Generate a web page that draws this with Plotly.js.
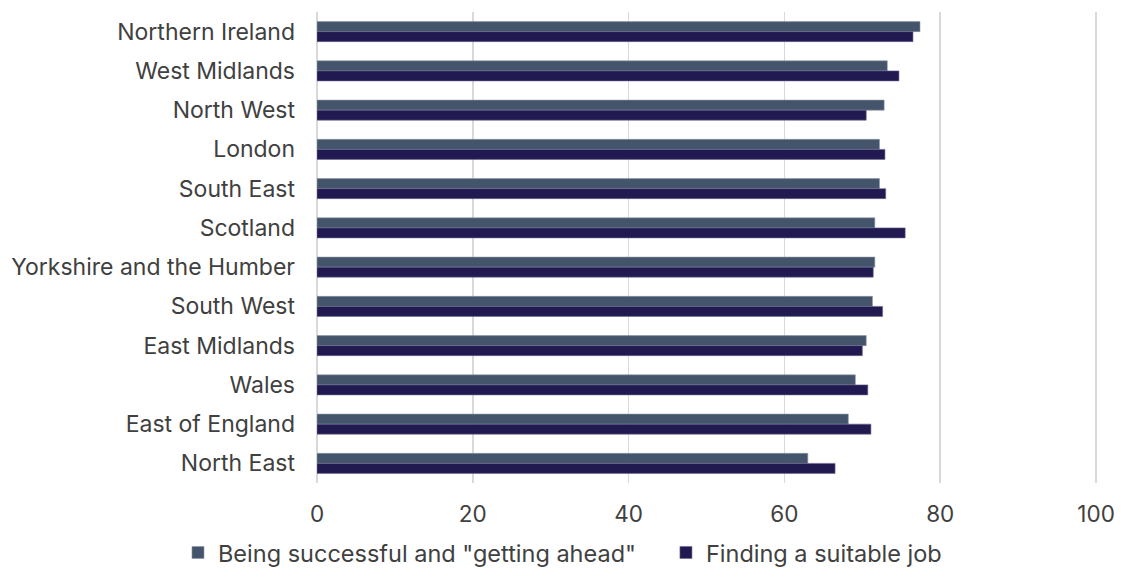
<!DOCTYPE html>
<html>
<head>
<meta charset="utf-8">
<script src="https://cdn.plot.ly/plotly-3.0.1.min.js"></script>
<style>
  html, body { margin: 0; padding: 0; background: #ffffff; }
  #chart { width: 1123px; height: 577px; }
</style>
</head>
<body>
<div id="chart"></div>
<script>
// UK regions, listed top to bottom
const regions = [
  "Northern Ireland", "West Midlands", "North West", "London", "South East",
  "Scotland", "Yorkshire and the Humber", "South West", "East Midlands",
  "Wales", "East of England", "North East"
];

// Share of respondents (%) per region
const gettingAhead = [77.4, 73.2, 72.8, 72.2, 72.2, 71.6, 71.6, 71.3, 70.5, 69.1, 68.2, 63.0];
const suitableJob  = [76.5, 74.7, 70.5, 72.9, 73.0, 75.5, 71.4, 72.6, 70.0, 70.7, 71.1, 66.5];

const seriesNames = ['Being successful and "getting ahead"', 'Finding a suitable job'];
const xTicks = [0, 20, 40, 60, 80, 100];

const fontFamily = 'Inter, Roboto, "Open Sans", sans-serif';
const textColor = '#404040';
const fontSize = 23;

const traces = [
  {
    type: 'bar', orientation: 'h', name: seriesNames[0],
    y: regions, x: gettingAhead, legend: 'legend',
    marker: { color: '#44546A', line: { color: '#8a96a6', width: 0.6 } },
    hoverinfo: 'x+name'
  },
  {
    type: 'bar', orientation: 'h', name: seriesNames[1],
    y: regions, x: suitableJob, legend: 'legend2',
    marker: { color: '#211A50', line: { color: '#6a6590', width: 0.6 } },
    hoverinfo: 'x+name'
  }
];

// Shared styling for the two single-entry legends below the plot
const legendStyle = {
  orientation: 'h', xanchor: 'left', xref: 'container',
  y: 0.004, yanchor: 'bottom', yref: 'container',
  font: { family: fontFamily, size: 23.5, color: textColor },
  itemwidth: 30, itemclick: false, itemdoubleclick: false
};

const layout = {
  width: 1123, height: 577,
  margin: { l: 317, r: 25, t: 12, b: 94 },
  paper_bgcolor: '#ffffff', plot_bgcolor: '#ffffff',
  barmode: 'group', bargap: 0.49, bargroupgap: 0,
  font: { family: fontFamily, size: fontSize, color: textColor },
  xaxis: {
    range: [0, 100.25], tickvals: xTicks, ticktext: xTicks.map(String),
    showgrid: true, gridcolor: '#d9d9d9', gridwidth: 1.5,
    zeroline: true, zerolinecolor: '#d9d9d9', zerolinewidth: 1.5,
    showline: false, ticks: '', ticklabelstandoff: 15,
    tickfont: { family: fontFamily, size: 22.5, color: textColor },
    fixedrange: true
  },
  yaxis: {
    autorange: 'reversed', type: 'category',
    showgrid: false, zeroline: false, showline: false, ticks: '',
    ticklabelstandoff: 21,
    tickfont: { family: fontFamily, size: fontSize, color: textColor },
    fixedrange: true
  },
  showlegend: true,
  legend: Object.assign({}, legendStyle, { x: 0.1585 }),
  legend2: Object.assign({}, legendStyle, { x: 0.593 })
};

Plotly.newPlot('chart', traces, layout, { displayModeBar: false, staticPlot: true });
</script>
</body>
</html>
